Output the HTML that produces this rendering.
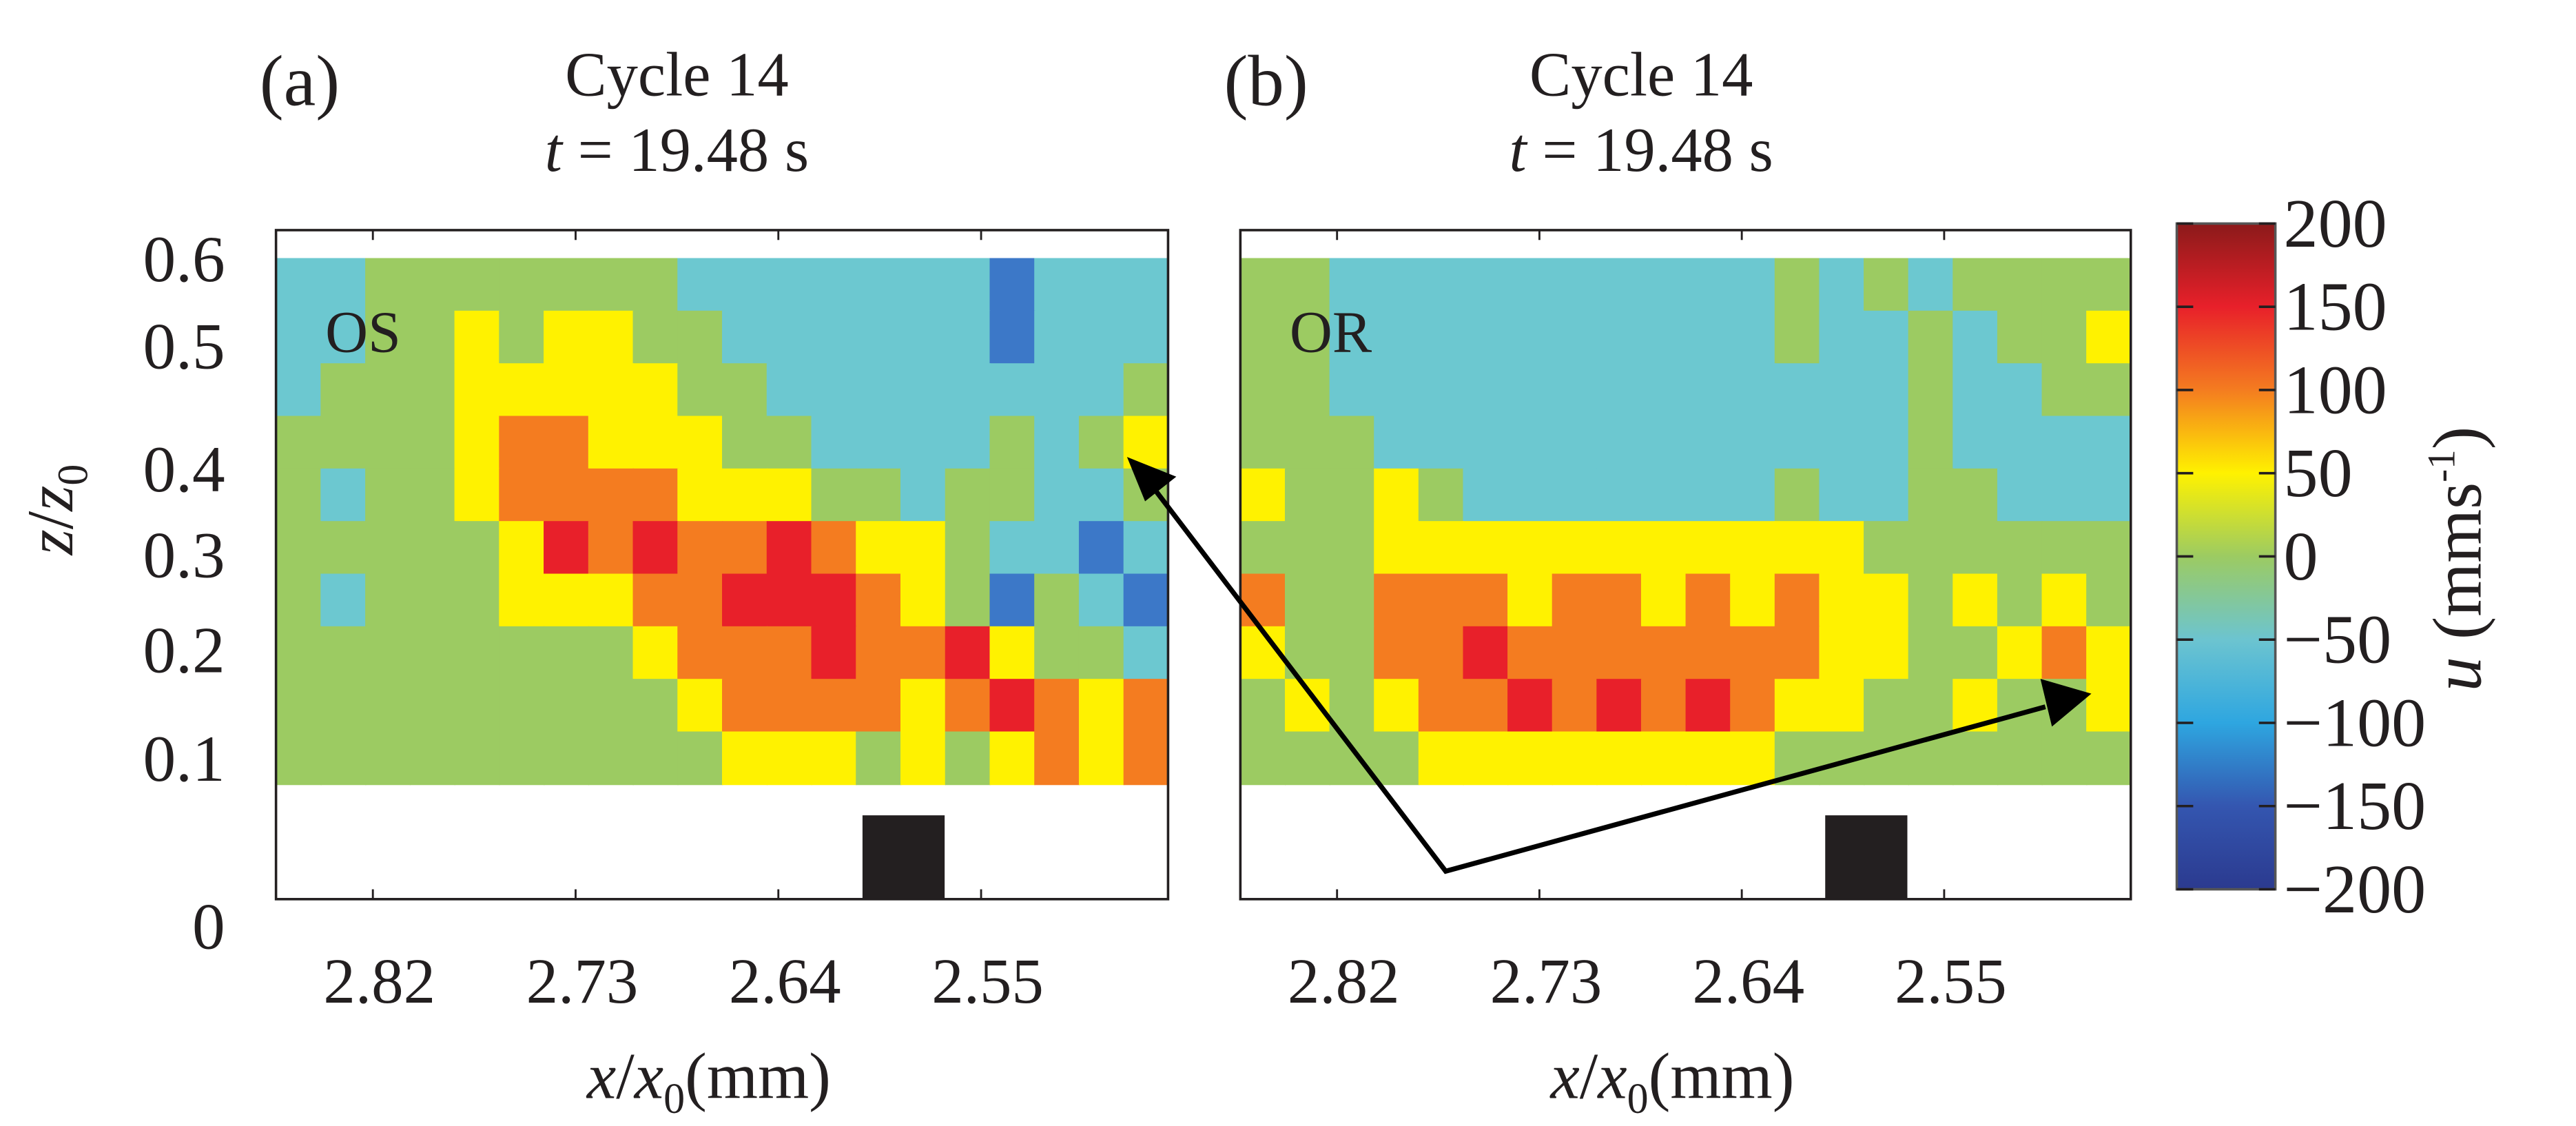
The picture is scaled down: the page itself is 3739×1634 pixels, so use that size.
<!DOCTYPE html>
<html><head><meta charset="utf-8"><style>html,body{margin:0;padding:0;background:#fff}svg{display:block}text{font-family:"Liberation Serif",serif;fill:#231f20}</style></head>
<body>
<svg id="fig" width="3739" height="1634" viewBox="0 0 1568 685" preserveAspectRatio="none" xmlns="http://www.w3.org/2000/svg">
<rect width="1568" height="685" fill="#fff"/>
<g id="pa"></g>
<g id="pb"></g>
<g id="cb"></g>
<g id="ov"></g>
</svg>
<script>
const yTickLabels=["0.6","0.5","0.4","0.3","0.2","0.1","0"];
const yTickPos=[157,210,285,337,395,461,563];
const xTickLabels=["2.82","2.73","2.64","2.55"];
const xTickValues=[2.82,2.73,2.64,2.55];
const xDomain=[2.863,2.467];
const cbLabels=["200","150","100","50","0","\u221250","\u2212100","\u2212150","\u2212200"];
const cbValues=[200,150,100,50,0,-50,-100,-150,-200];
const gridA=[
[-50,-50,0,0,0,0,0,0,0,-50,-50,-50,-50,-50,-50,-50,-80,-50,-50,-50],
[-50,-50,0,0,50,0,50,50,0,0,-50,-50,-50,-50,-50,-50,-80,-50,-50,-50],
[-50,0,0,0,50,50,50,50,50,0,0,-50,-50,-50,-50,-50,-50,-50,-50,0],
[0,0,0,0,50,100,100,50,50,50,0,0,-50,-50,-50,-50,0,-50,0,50],
[0,-50,0,0,50,100,100,100,100,50,50,50,0,0,-50,0,0,-50,-50,0],
[0,0,0,0,0,50,150,100,150,100,100,150,100,50,50,0,-50,-50,-80,-50],
[0,-50,0,0,0,50,50,50,100,100,150,150,150,100,50,0,-80,0,-50,-80],
[0,0,0,0,0,0,0,0,50,100,100,100,150,100,100,150,50,0,0,-50],
[0,0,0,0,0,0,0,0,0,50,100,100,100,100,50,100,150,100,50,100],
[0,0,0,0,0,0,0,0,0,0,50,50,50,0,50,0,50,100,50,100]];
const gridB=[
[0,0,-50,-50,-50,-50,-50,-50,-50,-50,-50,-50,0,-50,0,-50,0,0,0,0],
[0,0,-50,-50,-50,-50,-50,-50,-50,-50,-50,-50,0,-50,-50,0,-50,0,0,50],
[0,0,-50,-50,-50,-50,-50,-50,-50,-50,-50,-50,-50,-50,-50,0,-50,-50,0,0],
[0,0,0,-50,-50,-50,-50,-50,-50,-50,-50,-50,-50,-50,-50,0,-50,-50,-50,-50],
[50,0,0,50,0,-50,-50,-50,-50,-50,-50,-50,0,-50,-50,0,0,-50,-50,-50],
[0,0,0,50,50,50,50,50,50,50,50,50,50,50,0,0,0,0,0,0],
[100,0,0,100,100,100,50,100,100,50,100,50,100,50,50,0,50,0,50,0],
[50,0,0,100,100,150,100,100,100,100,100,100,100,50,50,0,0,50,100,50],
[0,50,0,50,100,100,150,100,150,100,150,100,50,50,0,0,50,0,0,50],
[0,0,0,0,50,50,50,50,50,50,50,50,0,0,0,0,0,0,0,0]];
const NS="http://www.w3.org/2000/svg";
function mk(p,t,a,txt){const e=document.createElementNS(NS,t);for(const k in a)e.setAttribute(k,a[k]);if(txt!==undefined)e.textContent=txt;p.appendChild(e);return e;}
function color(v){if(v<-75)return"#3c78c8";if(v<-25)return"#6cc8d0";if(v<25)return"#9ccb62";if(v<75)return"#fff200";if(v<125)return"#f47c20";return"#e8202a";}
function panel(g,L,R,grid,tag,lbl,blkX){
  const T=140,B=547,dT=157,dB=477;
  const xs=v=>L+(v-xDomain[0])/(xDomain[1]-xDomain[0])*(R-L);
  const nr=grid.length,nc=grid[0].length,cw=(R-L)/nc,rh=(dB-dT)/nr;
  grid.forEach((row,i)=>row.forEach((v,j)=>{
    const c=mk(g,"rect",{x:L+j*cw,y:dT+i*rh,width:cw+0.6,height:rh+0.6,fill:color(v)});
    
    
  }));
  const blk=mk(g,"rect",{x:blkX,y:496,width:50,height:51,fill:"#231f20"});
  
  
  const fr=mk(g,"rect",{x:L,y:T,width:R-L,height:B-T,fill:"none",stroke:"#231f20","stroke-width":1.5});
  
  
  xTickValues.forEach((v,i)=>{
    const x=xs(v);
    mk(g,"line",{x1:x,x2:x,y1:B,y2:B-6,stroke:"#231f20","stroke-width":1.2});
    mk(g,"line",{x1:x,x2:x,y1:T,y2:T+6,stroke:"#231f20","stroke-width":1.2});
    const t=mk(g,"text",{x:x+4,y:610,"font-size":39,"text-anchor":"middle"},xTickLabels[i]);
    
    
  });
  const xl=mk(g,"text",{x:(L+R)/2-8,y:668,"font-size":40,"text-anchor":"middle"});
  
  
  xl.innerHTML='<tspan font-style="italic">x</tspan>/<tspan font-style="italic">x</tspan><tspan font-size="26" dy="9">0</tspan><tspan dy="-9">(mm)</tspan>';
  const tg=mk(g,"text",{x:L-10,y:64,"font-size":44},tag);
  
  
  const c1=mk(g,"text",{x:L+244,y:58,"font-size":38,"text-anchor":"middle"},"Cycle 14");
  
  
  const c2=mk(g,"text",{x:L+244,y:104,"font-size":38,"text-anchor":"middle"});
  c2.innerHTML='<tspan font-style="italic">t</tspan> = 19.48 s';
  
  
  const ol=mk(g,"text",{x:L+30,y:214,"font-size":36},lbl);
  
  
}
const pa=document.getElementById("pa"),pb=document.getElementById("pb");
panel(pa,168,711,gridA,"(a)","OS",525);
panel(pb,755,1297,gridB,"(b)","OR",1111);
yTickLabels.forEach((l,i)=>{
  const t=mk(pa,"text",{x:137,y:yTickPos[i]+14,"font-size":40,"text-anchor":"end"},l);
  
  
});
const yl=mk(pa,"text",{transform:"translate(44,310) rotate(-90)","font-size":40,"text-anchor":"middle"});
yl.innerHTML='<tspan font-style="italic">z</tspan>/<tspan font-style="italic">z</tspan><tspan font-size="26" dy="9">0</tspan>';


const cb=document.getElementById("cb");
const defs=mk(cb,"defs",{});
const lg=mk(defs,"linearGradient",{id:"jet",x1:0,y1:0,x2:0,y2:1});
[["0","#8b1a1a"],["0.125","#e8202a"],["0.25","#f47c20"],["0.375","#fff200"],["0.5","#9ccb62"],["0.625","#6cc4d0"],["0.75","#2ea6e0"],["0.875","#3456b0"],["1","#2b3a8f"]].forEach(s=>mk(lg,"stop",{offset:s[0],"stop-color":s[1]}));
const cT=136,cB=541,cs=v=>cT+(200-v)/400*(cB-cT);
const cbr=mk(cb,"rect",{x:1325,y:cT,width:60,height:cB-cT,fill:"url(#jet)",stroke:"#555","stroke-width":1.5});


cbValues.forEach((v,i)=>{
  const y=cs(v);
  mk(cb,"line",{x1:1325,x2:1335,y1:y,y2:y,stroke:"#231f20","stroke-width":1.5});
  mk(cb,"line",{x1:1375,x2:1385,y1:y,y2:y,stroke:"#231f20","stroke-width":1.5});
  const t=mk(cb,"text",{x:1390,y:y+14,"font-size":42},cbLabels[i]);
  
  
});
const ut=mk(cb,"text",{transform:"translate(1510,340) rotate(-90)","font-size":42,"text-anchor":"middle"});
ut.innerHTML='<tspan font-style="italic">u</tspan> (mms<tspan font-size="24" dy="-16">-1</tspan><tspan dy="16">)</tspan>';


const ov=document.getElementById("ov");
const ar=mk(ov,"polyline",{points:"700,294 880,530 1245,430",fill:"none",stroke:"#000","stroke-width":3});


mk(ov,"polygon",{points:"686,278 716,290 697,305",fill:"#000"});
mk(ov,"polygon",{points:"1273,422 1242,413 1249,442",fill:"#000"});
</script>
</body></html>
